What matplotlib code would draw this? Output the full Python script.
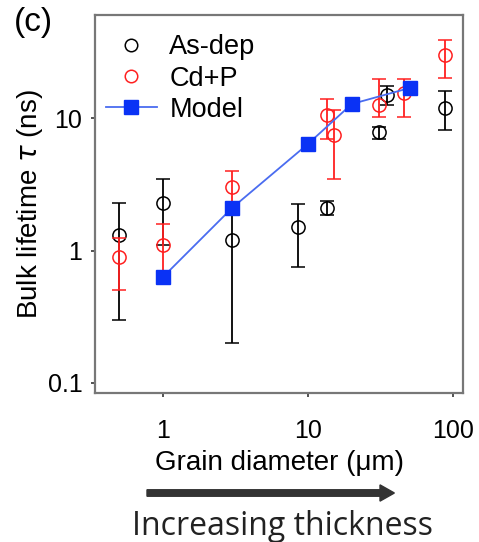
import numpy as np
from matplotlib import pyplot as plt
from matplotlib.lines import Line2D

# as-deposited samples: grain diameter (um), lifetime (ns), error bar ends
asdep_d = [0.5, 1.0, 3.0, 8.5, 13.5, 31, 35, 88]
asdep_tau = [1.3, 2.3, 1.2, 1.5, 2.1, 7.8, 15.0, 12.0]
asdep_lo = [0.30, 1.1, 0.20, 0.75, 1.85, 7.0, 12.5, 8.1]
asdep_hi = [2.3, 3.5, 2.2, 2.25, 2.35, 8.6, 17.5, 16.0]

# Cd+P treated samples
cdp_d = [0.5, 1.0, 3.0, 13.5, 15, 31, 46, 88]
cdp_tau = [0.9, 1.1, 3.0, 10.5, 7.5, 12.5, 15.5, 30.0]
cdp_lo = [0.5, 0.6, 2.0, 7.0, 3.5, 10.2, 10.2, 20.0]
cdp_hi = [1.25, 1.6, 4.0, 14.0, 11.5, 19.9, 19.9, 39.0]

# model curve
model_d = [1, 3, 10, 20, 50]
model_tau = [0.63, 2.1, 6.4, 12.8, 16.9]

xticks = [1, 10, 100]
yticks = [0.1, 1, 10]
ytick_labels = ["0.1", "1", "10"]

plt.rcParams['font.family'] = ['Liberation Sans', 'DejaVu Sans']

fig = plt.figure(figsize=(4.79, 5.42), dpi=100)
ax = fig.add_axes([0.198, 0.275, 0.769, 0.697])

def err(y, lo, hi):
    y = np.array(y); lo = np.array(lo); hi = np.array(hi)
    return np.vstack((y - lo, hi - y))

ax.errorbar(asdep_d, asdep_tau, yerr=err(asdep_tau, asdep_lo, asdep_hi), fmt='o',
            mfc='none', mec='black', ecolor='black', ms=9.5, mew=1.1, elinewidth=1.3,
            capsize=5, capthick=1.2, zorder=3)
ax.errorbar(cdp_d, cdp_tau, yerr=err(cdp_tau, cdp_lo, cdp_hi), fmt='o',
            mfc='none', mec='#ff2020', ecolor='#ff2020', ms=9.5, mew=1.1, elinewidth=1.3,
            capsize=5, capthick=1.2, zorder=4)
ax.plot(model_d, model_tau, '-', color='#4a6cf0', lw=1.3, zorder=5)
ax.plot(model_d, model_tau, 's', color='#0a32f5', ms=9.5, zorder=6)

ax.set_xscale('log')
ax.set_yscale('log')
ax.set_xlim(0.34, 117)
ax.set_ylim(0.084, 60)
ax.set_xticks(xticks)
ax.set_xticklabels([str(t) for t in xticks])
ax.set_yticks(yticks)
ax.set_yticklabels(ytick_labels)
ax.minorticks_off()
ax.tick_params(direction='out', length=3, width=1.2, color='#333333',
               labelsize=18, pad=6)
ax.tick_params(axis='x', pad=16)
for s in ax.spines.values():
    s.set_color('#777777')
    s.set_linewidth(1.6)

ax.set_xlabel("Grain diameter (\u03bcm)", fontsize=20, labelpad=5)
ax.set_ylabel("Bulk lifetime $\\tau$ (ns)", fontsize=20, labelpad=2)

handles = [
    Line2D([], [], marker='o', ls='none', mfc='none', mec='black', ms=9, mew=1.1),
    Line2D([], [], marker='o', ls='none', mfc='none', mec='#ff2020', ms=9, mew=1.1),
    Line2D([], [], marker='s', ls='-', color='#4a6cf0', mfc='#0a32f5', mec='#0a32f5', ms=9.5, lw=1.3),
]
ax.legend(handles, ["As-dep", "Cd+P", "Model"], loc='upper left', frameon=False,
          fontsize=19.5, handlelength=1.9, handletextpad=0.45, labelspacing=0.2,
          borderaxespad=0.3, bbox_to_anchor=(-0.022, 1.0))

fig.text(0.03, 0.958, "(c)", fontsize=24, ha='left', va='center')

# arrow and caption below the axis
fig.patches.append(plt.matplotlib.patches.FancyArrow(
    147 / 479, 1 - 493 / 542, (380 - 147) / 479, 0, width=0.012, head_width=0.03,
    head_length=0.03, length_includes_head=False, color='#333333',
    transform=fig.transFigure, figure=fig))
fig.text(0.589, 0.028, "Increasing thickness", fontsize=23, ha='center', va='center',
         family=['Open Sans', 'DejaVu Sans'], color='#222222')

fig.savefig("out.png", dpi=100)
